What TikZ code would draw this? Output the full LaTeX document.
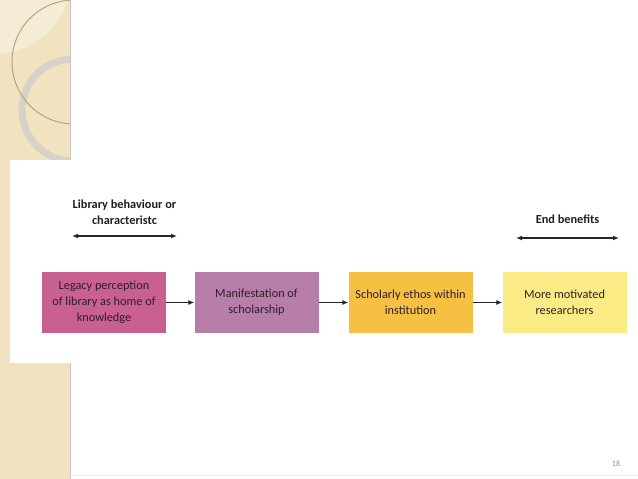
\documentclass[tikz,border=0pt]{standalone}
\usepackage{fontspec}
\setmainfont{Carlito}
\usetikzlibrary{arrows.meta}
\definecolor{stripbg}{RGB}{241,226,192}
\definecolor{stripline}{RGB}{200,195,185}
\definecolor{ringcol}{RGB}{215,210,200}
\definecolor{arccol}{RGB}{180,165,135}
\definecolor{boxA}{RGB}{201,96,146}
\definecolor{boxB}{RGB}{184,126,170}
\definecolor{boxC}{RGB}{246,192,66}
\definecolor{boxD}{RGB}{251,235,132}
\definecolor{txt}{RGB}{45,30,40}
\tikzset{
  stepbox/.style={minimum width=124pt, minimum height=61pt, inner sep=0pt, align=center,
    font=\fontsize{12.3}{16}\selectfont, text=txt},
  flow/.style={-{Latex[length=6pt,width=5pt]}, line width=1.2pt, black!85},
  span/.style={{Latex[length=6pt,width=5pt]}-{Latex[length=6pt,width=5pt]}, line width=1.2pt, black!85},
  headlbl/.style={font=\bfseries\fontsize{12.3}{16}\selectfont, align=center, text=black!88}
}
\begin{document}
\begin{tikzpicture}[x=1pt,y=-1pt]
\useasboundingbox (0,0) rectangle (638,479);
\fill[white] (0,0) rectangle (638,479);
% left strip
\fill[stripbg] (0,0) rectangle (70,479);
\begin{scope}
\clip (0,0) rectangle (70,479);
\fill[white, opacity=0.35] (-8,-25) circle (80);
\draw[ringcol, line width=7pt] (73,110) circle (51);
\draw[arccol, line width=1pt] (74,62) circle (62);
\end{scope}
\draw[stripline, line width=0.8pt] (70,0) -- (70,479);
% white inset
\fill[white] (10,160) rectangle (638,363);
% boxes
\node[stepbox, fill=boxA] (b1) at (104,302.5) {Legacy perception\\of library as home of\\knowledge};
\node[stepbox, fill=boxB] (b2) at (256.5,302.5) {Manifestation of\\scholarship};
\node[stepbox, fill=boxC] (b3) at (410.5,302.5) {Scholarly ethos within\\institution};
\node[stepbox, fill=boxD] (b4) at (564.5,302.5) {More motivated\\researchers};
\draw[flow] (b1) -- (b2);
\draw[flow] (b2) -- (b3);
\draw[flow] (b3) -- (b4);
% spans
\coordinate (s1a) at (72,236);
\coordinate (s1b) at (177,236);
\draw[span] (s1a) -- (s1b);
\node[headlbl] (h1) at (124.5,212) {Library behaviour or\\characteristc};
\coordinate (s2a) at (516,238);
\coordinate (s2b) at (619,238);
\draw[span] (s2a) -- (s2b);
\node[headlbl] (h2) at (567.5,219) {End benefits};
% page number
\node[font=\fontsize{8}{9}\selectfont, text=black!45] (pg) at (616,464) {18};
\draw[stripbg!70, line width=0.6pt] (70,475) -- (638,475);
\end{tikzpicture}
\end{document}
